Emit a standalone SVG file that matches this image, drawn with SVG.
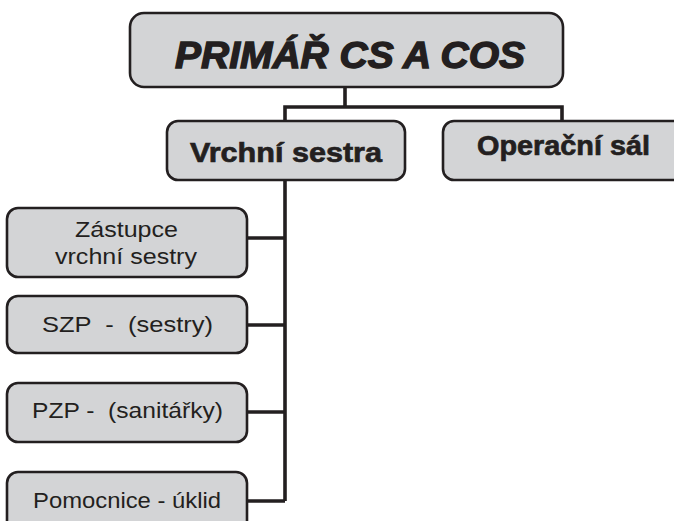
<svg xmlns="http://www.w3.org/2000/svg" width="674" height="521" viewBox="0 0 674 521">
<style>
.box{fill:#d3d4d6;stroke:#231f20;stroke-width:2.6}
.conn{fill:none;stroke:#231f20;stroke-width:3.6;stroke-linejoin:miter}
.title{font-family:"Liberation Sans",Arial,sans-serif;font-weight:bold;font-style:italic;font-size:37px;fill:#231f20;stroke:#231f20;stroke-width:1.4}
.mid{font-family:"Liberation Sans",Arial,sans-serif;font-weight:bold;font-size:28px;fill:#231f20;stroke:#231f20;stroke-width:0.7}
.small{font-family:"Liberation Sans",Arial,sans-serif;font-size:22px;fill:#231f20;white-space:pre}
</style>
<rect width="674" height="521" fill="#ffffff"/>
<g id="connectors">
<path class="conn" d="M345,87 V107 M285,121 V107 H562 V121"/>
<path class="conn" d="M285,180 V501 M247,238 H285 M247,325 H285 M247,412 H285 M247,501 H285"/>
</g>
<g id="primar">
<rect class="box" x="130" y="13" width="433" height="74" rx="14"/>
<text class="title" x="175" y="68" textLength="350" lengthAdjust="spacingAndGlyphs">PRIMÁŘ CS A COS</text>
</g>
<g id="vrchni-sestra">
<rect class="box" x="167" y="121" width="238" height="59" rx="11"/>
<text class="mid" x="190" y="162" textLength="192" lengthAdjust="spacingAndGlyphs">Vrchní sestra</text>
</g>
<g id="operacni-sal">
<rect class="box" x="443" y="121" width="250" height="59" rx="11"/>
<text class="mid" x="477" y="155" textLength="173" lengthAdjust="spacingAndGlyphs">Operační sál</text>
</g>
<g id="zastupce">
<rect class="box" x="7" y="208" width="240" height="69" rx="11"/>
<text class="small" x="75" y="237" textLength="103" lengthAdjust="spacingAndGlyphs">Zástupce</text>
<text class="small" x="55" y="264" textLength="142" lengthAdjust="spacingAndGlyphs">vrchní sestry</text>
</g>
<g id="szp">
<rect class="box" x="7" y="296" width="240" height="57" rx="11"/>
<text class="small" x="42" y="332" textLength="171" lengthAdjust="spacingAndGlyphs" xml:space="preserve">SZP  -  (sestry)</text>
</g>
<g id="pzp">
<rect class="box" x="7" y="383" width="240" height="59" rx="11"/>
<text class="small" x="32" y="418" textLength="191" lengthAdjust="spacingAndGlyphs" xml:space="preserve">PZP -  (sanitářky)</text>
</g>
<g id="pomocnice">
<rect class="box" x="7" y="472" width="240" height="70" rx="11"/>
<text class="small" x="33" y="508" textLength="188" lengthAdjust="spacingAndGlyphs">Pomocnice - úklid</text>
</g>
</svg>
